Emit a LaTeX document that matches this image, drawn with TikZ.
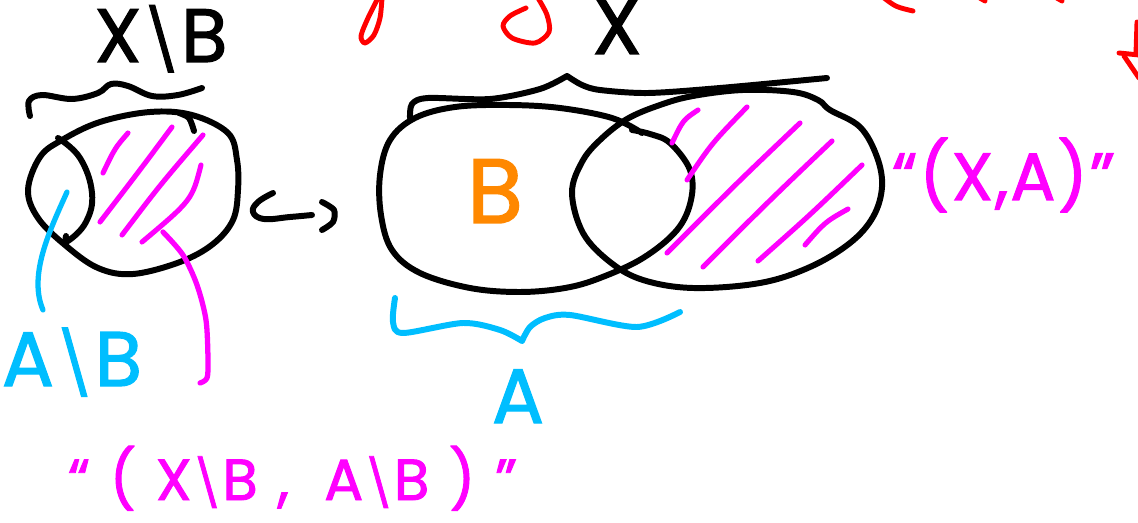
\documentclass[tikz,border=0pt]{standalone}
\usepackage{fontspec}
\newfontfamily\hand[FakeBold=1.6]{Poppins}
\newcommand{\bsl}{\scalebox{0.8}{\textbackslash}}
\definecolor{mag}{RGB}{255,0,255}
\definecolor{sky}{RGB}{0,190,255}
\definecolor{org}{RGB}{255,136,0}
\definecolor{rd}{RGB}{255,0,0}
\begin{document}
\begin{tikzpicture}[x=0.02cm,y=-0.02cm,
  pen/.style={line width=3.4pt,line cap=round,line join=round},
  ink/.style={pen,draw=black},
  hatchline/.style={pen,draw=mag,line width=2.9pt},
  leader/.style={pen,line width=3pt},
  redpen/.style={pen,draw=rd,line width=2.8pt},
  lbl/.style={inner sep=0pt,outer sep=0pt},
]
\useasboundingbox (0,0) rectangle (1138,523);

% ---------- left picture: X\B ----------
\draw[ink] plot[smooth cycle,tension=0.6] coordinates {(28,190)(40,157)(62,140)(100,122)(150,112)(192,115)(228,133)(237,160)(238,190)(233,220)(213,244)(180,262)(133,274)(98,268)(65,245)(38,218)};
\draw[ink] plot[smooth,tension=0.7] coordinates {(58,138)(80,158)(92,193)(86,222)(68,241)(66,236)};
\draw[ink] plot[smooth] coordinates {(179,113)(189,118)(194,131)};
\draw[ink] plot[smooth,tension=0.6] coordinates {(30,116)(29,101)(42,95)(72,99)(98,93)(111,84)(128,86)(152,96)(178,95)(202,88)};

\draw[hatchline] (128,133) .. controls (115,148) .. (103,173);
\draw[hatchline] (172,127) .. controls (140,170) .. (100,222);
\draw[hatchline] (203,135) .. controls (160,185) .. (122,235);
\draw[hatchline] (201,165) .. controls (192,200) .. (142,242);

\node[lbl,anchor=base,text=black,font=\hand\fontsize{43}{46}\selectfont] (xb) at (161,62) {X\bsl B};
\node[lbl,anchor=base,text=sky,font=\hand\fontsize{44}{46}\selectfont] (ab) at (72,386) {A\bsl B};
\coordinate (lens) at (67,192);
\coordinate (abtop) at (43,310);
\draw[leader,draw=sky] (lens) .. controls (50,230) and (28,275) .. (abtop);
\draw[leader,draw=mag] plot[smooth] coordinates {(163,232)(183,255)(197,285)(206,320)(208,360)(207,378)(200,383)};

% ---------- hook arrow ----------
\draw[ink] plot[smooth,tension=0.7] coordinates {(273,193)(258,202)(253,212)(264,219)(290,217)(312,215)};
\draw[ink] plot[smooth] coordinates {(322,202)(334,210)(333,222)(322,230)};

% ---------- right picture: X and A ----------
\draw[ink] plot[smooth,tension=0.6] coordinates {(642,133)(612,118)(560,108)(508,105)(455,107)(415,118)(390,140)(380,175)(381,215)(392,250)(420,273)(470,288)(520,292)(565,288)(600,278)(643,258)(677,230)(691,200)(690,170)(670,143)(650,134)(632,130)};
\draw[ink] plot[smooth cycle,tension=0.6] coordinates {(572,193)(582,162)(600,140)(627,119)(660,105)(693,96)(743,90)(793,92)(818,100)(830,110)(860,127)(877,157)(882,187)(873,217)(850,243)(810,267)(760,283)(693,288)(643,280)(610,262)(583,233)};

\draw[hatchline] (698,110) .. controls (683,120) .. (672,143);
\draw[hatchline] (747,107) .. controls (712,143) .. (687,180);
\draw[hatchline] (800,123) .. controls (740,180) .. (667,253);
\draw[hatchline] (832,141) .. controls (770,200) .. (703,267) -- (712,258);
\draw[hatchline] (862,165) .. controls (810,215) .. (758,261);
\draw[hatchline] (848,209) .. controls (825,222) .. (805,245);

% braces
\draw[ink] plot[smooth,tension=0.5] coordinates {(410,118)(412,104)(428,98)(490,99)(540,89)(567,76)}
           plot[smooth,tension=0.5] coordinates {(567,76)(582,85)(600,90)(648,93)(720,88)(827,78)};
\draw[pen,draw=sky] plot[smooth,tension=0.5] coordinates {(395,298)(393,322)(403,333)(463,323)(500,330)(522,341)}
           plot[smooth,tension=0.5] coordinates {(522,341)(530,327)(545,318)(570,315)(637,327)(680,312)};

\node[lbl,anchor=base,text=black,font=\hand\fontsize{46}{48}\selectfont] (xlab) at (617,54) {X};
\node[lbl,anchor=base,text=org,font=\hand\fontsize{52}{54}\selectfont] (blab) at (495,223) {B};
\node[lbl,anchor=base,text=sky,font=\hand\fontsize{44}{46}\selectfont] (alab) at (518,423) {A};

\node[lbl,anchor=base west,text=mag,font=\hand\fontsize{38}{40}\selectfont\addfontfeatures{LetterSpace=3}] (xa) at (892,200) {“(X,A)”};
\node[lbl,anchor=base west,text=mag,font=\hand\fontsize{33}{36}\selectfont\addfontfeatures{LetterSpace=34}] (pair) at (68,500) {“(X\bsl B, A\bsl B)”};

% ---------- red fragments at the top ----------
\draw[redpen] plot[smooth] coordinates {(378,-2)(368,18)(361,36)(365,43)(374,35)(380,18)(382,-2)};
\draw[redpen] plot[smooth] coordinates {(526,8)(510,16)(503,26)(512,38)(535,43)(549,32)(547,15)(538,-2)};
\draw[redpen] (884,-2) .. controls (896,7) .. (913,11);
\draw[redpen] (978,-3) -- (985,1);
\draw[redpen] (1055,-3) -- (1062,1);
\draw[redpen] (1137,22) -- (1136,53);
\draw[redpen] (1119,53) -- (1139,55);
\draw[redpen] (1124,56) -- (1139,78);
\end{tikzpicture}
\end{document}
